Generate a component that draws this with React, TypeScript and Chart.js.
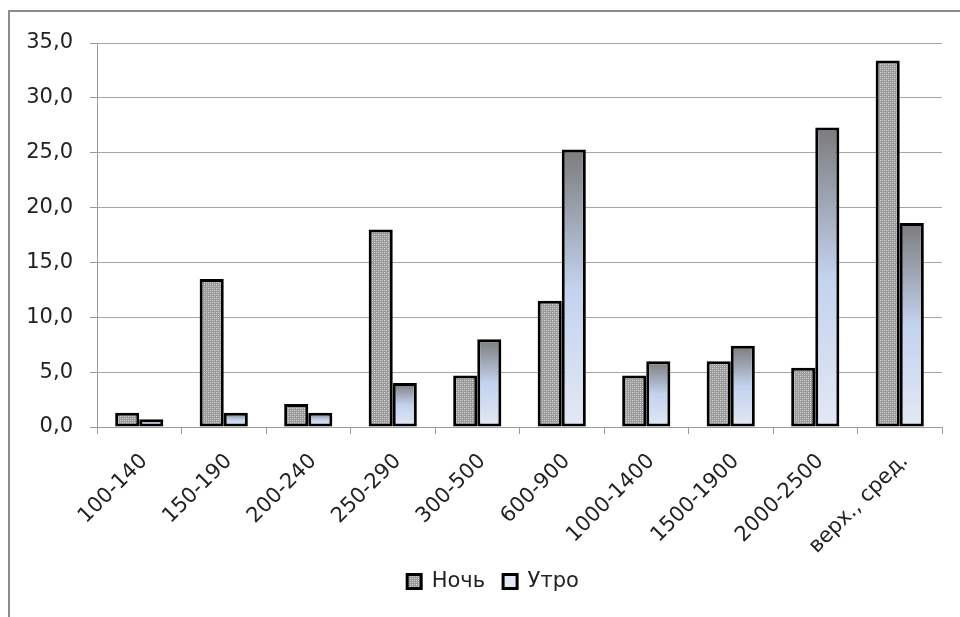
import React, { useEffect, useRef } from "react";
import { Chart, registerables } from "chart.js";

Chart.register(...registerables);

const categories = [
  "100-140",
  "150-190",
  "200-240",
  "250-290",
  "300-500",
  "600-900",
  "1000-1400",
  "1500-1900",
  "2000-2500",
  "верх., сред.",
];
const nightValues = [1.3, 13.5, 2.1, 18.0, 4.7, 11.5, 4.7, 6.0, 5.4, 33.4];
const morningValues = [0.7, 1.3, 1.3, 4.0, 8.0, 25.3, 6.0, 7.4, 27.3, 18.6];
const seriesNames = ["Ночь", "Утро"];
const yMin = 0;
const yMax = 35;
const yStep = 5;

const FONT = "'DejaVu Sans', 'Noto Sans', sans-serif";

function makeDotPattern(): CanvasPattern | string {
  const c = document.createElement("canvas");
  c.width = 4;
  c.height = 4;
  const g = c.getContext("2d");
  if (!g) return "#b0b0b0";
  g.fillStyle = "#9a9a9a";
  g.fillRect(0, 0, 4, 4);
  g.fillStyle = "#dcdcdc";
  g.fillRect(0, 0, 1, 1);
  g.fillRect(2, 2, 1, 1);
  g.fillStyle = "#c4c4c4";
  g.fillRect(2, 0, 1, 1);
  g.fillRect(0, 2, 1, 1);
  const p = g.createPattern(c, "repeat");
  return p || "#b0b0b0";
}

const framePlugin = {
  id: "frame",
  beforeDraw(chart: any) {
    const ctx = chart.ctx;
    ctx.save();
    ctx.strokeStyle = "#8c8c8c";
    ctx.lineWidth = 2;
    ctx.beginPath();
    ctx.moveTo(9, 617);
    ctx.lineTo(9, 11);
    ctx.lineTo(960, 11);
    ctx.stroke();
    ctx.restore();
  },
};

const legendShiftPlugin = {
  id: "legendShift",
  afterLayout(chart: any) {
    const lg = chart.legend;
    if (lg) {
      lg.left += 22;
      lg.right += 22;
    }
  },
};

export default function App() {
  const ref = useRef<HTMLCanvasElement | null>(null);

  useEffect(() => {
    if (!ref.current) return;
    const pattern = makeDotPattern();
    const morningFill = (context: any) => {
      const chart = context.chart;
      if (context.type !== "data" || !chart.chartArea || !chart.scales.y) {
        return "#c8d4ec";
      }
      const ys = chart.scales.y;
      const v = context.raw as number;
      const top = ys.getPixelForValue(v);
      const bottom = ys.getPixelForValue(0);
      if (!isFinite(top) || !isFinite(bottom) || bottom - top < 1) return "#c8d4ec";
      const grad = chart.ctx.createLinearGradient(0, top, 0, bottom);
      grad.addColorStop(0, "#7b7b7b");
      grad.addColorStop(0.5, "#c3d2ee");
      grad.addColorStop(1, "#e3e8f4");
      return grad;
    };

    const chart = new Chart(ref.current, {
      type: "bar",
      data: {
        labels: categories,
        datasets: [
          {
            label: seriesNames[0],
            data: nightValues,
            backgroundColor: pattern as any,
            borderColor: "#000000",
            borderWidth: 3,
            borderSkipped: false,
            categoryPercentage: 0.57,
            barPercentage: 1,
          },
          {
            label: seriesNames[1],
            data: morningValues,
            backgroundColor: morningFill as any,
            borderColor: "#000000",
            borderWidth: 3,
            borderSkipped: false,
            categoryPercentage: 0.57,
            barPercentage: 1,
          },
        ],
      },
      options: {
        animation: false,
        responsive: false,
        maintainAspectRatio: false,
        layout: { padding: { left: 0, right: 18, top: 43, bottom: 15 } },
        plugins: {
          legend: {
            position: "bottom",
            labels: {
              font: { family: FONT, size: 21 },
              color: "#222222",
              boxWidth: 14,
              boxHeight: 14,
              padding: 18,
            },
          },
          tooltip: { enabled: false },
        },
        scales: {
          x: {
            afterFit: (scale: any) => {
              scale.height = 126;
            },
            grid: {
              offset: true,
              drawOnChartArea: false,
              drawTicks: true,
              tickLength: 7,
              color: "#9a9a9a",
              lineWidth: 1,
            },
            border: { color: "#9a9a9a", width: 1 },
            ticks: {
              font: { family: FONT, size: 21 },
              color: "#222222",
              maxRotation: 45,
              minRotation: 45,
              autoSkip: false,
              padding: 15,
              labelOffset: 5,
            },
          },
          y: {
            min: yMin,
            max: yMax,
            afterFit: (scale: any) => {
              scale.width = 97;
            },
            grid: {
              color: "#a6a6a6",
              lineWidth: 1,
              drawTicks: true,
              tickLength: 7,
              tickColor: "#9a9a9a",
            },
            border: { color: "#9a9a9a", width: 1 },
            ticks: {
              stepSize: yStep,
              font: { family: FONT, size: 21 },
              color: "#222222",
              padding: 17,
              callback: (v: any) => Number(v).toFixed(1).replace(".", ","),
            },
          },
        },
      },
      plugins: [framePlugin, legendShiftPlugin],
    });
    return () => chart.destroy();
  }, []);

  return (
    <div style={{ position: "absolute", left: 0, top: 0, width: 960, height: 617, background: "#ffffff" }}>
      <canvas ref={ref} width={960} height={617} style={{ display: "block" }} />
    </div>
  );
}
